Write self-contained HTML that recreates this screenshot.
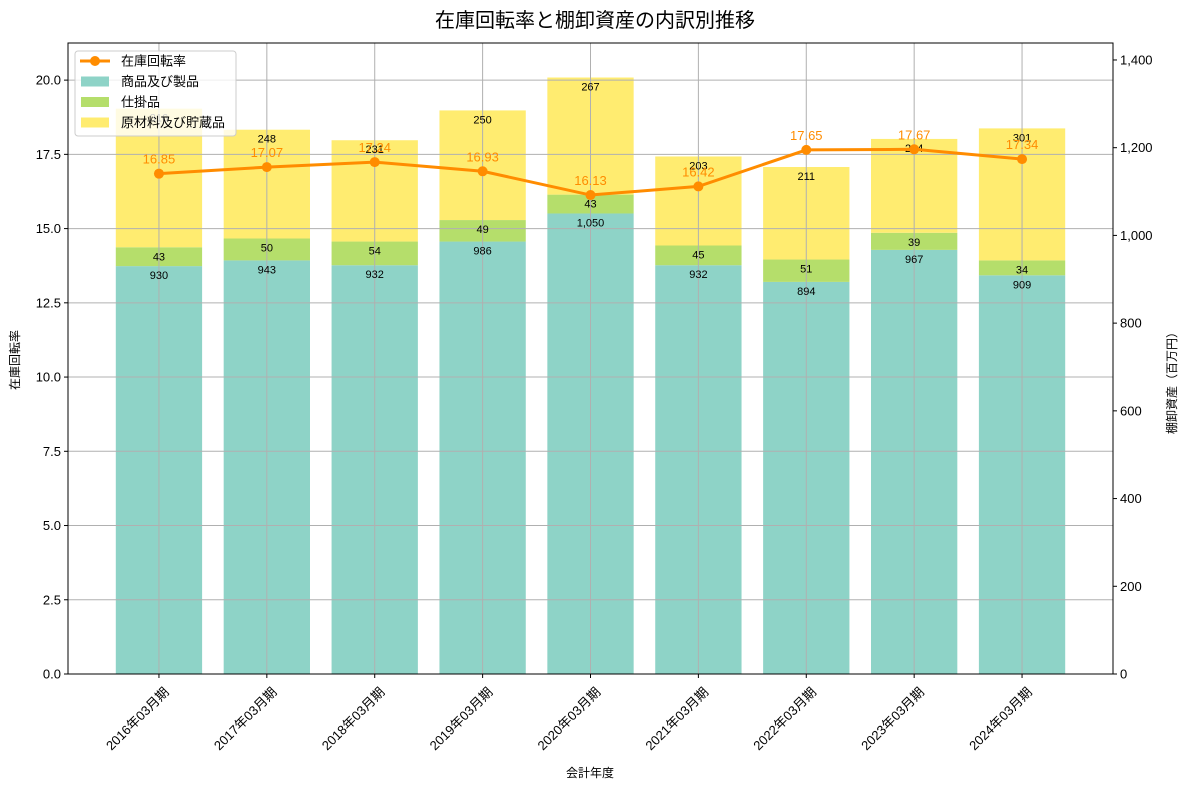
<!DOCTYPE html>
<html><head><meta charset="utf-8"><style>
html,body{margin:0;padding:0;background:#fff;}
svg{display:block;font-family:"Liberation Sans","Noto Sans CJK JP",sans-serif;}
</style></head><body>
<svg id="chart" width="1190" height="789" viewBox="0 0 1190 789"></svg>
<script>
const categories = ["2016年03月期","2017年03月期","2018年03月期","2019年03月期","2020年03月期","2021年03月期","2022年03月期","2023年03月期","2024年03月期"];
const products = [930,943,932,986,1050,932,894,967,909];
const wip = [43,50,54,49,43,45,51,39,34];
const rawMaterials = [316,248,231,250,267,203,211,214,301];
const turnover = [16.85,17.07,17.24,16.93,16.13,16.42,17.65,17.67,17.34];
const leftTicks = [0,2.5,5,7.5,10,12.5,15,17.5,20];
const rightTicks = [0,200,400,600,800,1000,1200,1400];

const NS="http://www.w3.org/2000/svg";
const svg=document.getElementById('chart');
const L=68,R=1113,T=43,B=674;
const xMin=-0.843,xMax=categories.length-1+0.843;
const yL=v=>B-(B-T)*v/21.25;
const yR=v=>B-(B-T)*v/1438.7;
const xS=i=>L+(R-L)*(i-xMin)/(xMax-xMin);
const bw=(R-L)/(xMax-xMin)*0.8;
function mk(tag,attrs,parent){const e=document.createElementNS(NS,tag);for(const k in attrs)e.setAttribute(k,attrs[k]);(parent||svg).appendChild(e);return e;}
const fmt=v=>v.toLocaleString('en-US');

// title
let t=mk('text',{x:595,y:27,'text-anchor':'middle','font-size':20,fill:'#000'});
t.textContent='在庫回転率と棚卸資産の内訳別推移';



// bars
const colors=['#8ed3c7','#b5de6b','#ffec70'];
categories.forEach((c,i)=>{
  const segs=[products[i],wip[i],rawMaterials[i]];
  const names=['bar-products','bar-wip','bar-raw-materials'];
  let base=0;
  segs.forEach((v,j)=>{
    const r=mk('rect',{x:xS(i)-bw/2,y:yR(base+v),width:bw,height:yR(base)-yR(base+v),fill:colors[j]});
    
    
    base+=v;
  });
});
// grid on top
leftTicks.forEach(v=>{const g=mk('line',{x1:L,x2:R,y1:yL(v),y2:yL(v),stroke:'#b0b0b0','stroke-width':1});});
categories.forEach((c,i)=>{const g=mk('line',{x1:xS(i),x2:xS(i),y1:T,y2:B,stroke:'#b0b0b0','stroke-width':1});});
// bar labels
categories.forEach((c,i)=>{
  const segs=[products[i],wip[i],rawMaterials[i]];
  let base=0;
  segs.forEach(v=>{
    base+=v;
    const l=mk('text',{x:xS(i),y:yR(base)+13,'text-anchor':'middle','font-size':11,fill:'#000'});
    l.textContent=fmt(v);
    
    
  });
});
// line
const pts=turnover.map((v,i)=>xS(i)+','+yL(v)).join(' ');
const pl=mk('polyline',{points:pts,fill:'none',stroke:'#ff8c00','stroke-width':3});


turnover.forEach((v,i)=>{
  const c=mk('circle',{cx:xS(i),cy:yL(v),r:5,fill:'#ff8c00'});
  
  
  const l=mk('text',{x:xS(i),y:yL(v)-10,'text-anchor':'middle','font-size':13,fill:'#ff8c00'});
  l.textContent=v.toFixed(2);
  
  
});
// frame
const fr=mk('rect',{x:L,y:T,width:R-L,height:B-T,fill:'none',stroke:'#000','stroke-width':1});


// left ticks
leftTicks.forEach(v=>{
  mk('line',{x1:L-4,x2:L,y1:yL(v),y2:yL(v),stroke:'#000'});
  const l=mk('text',{x:L-7,y:yL(v)+4.5,'text-anchor':'end','font-size':13,fill:'#000'});
  l.textContent=v.toFixed(1);
  
  
});
rightTicks.forEach(v=>{
  mk('line',{x1:R,x2:R+4,y1:yR(v),y2:yR(v),stroke:'#000'});
  const l=mk('text',{x:R+7,y:yR(v)+4.5,'text-anchor':'start','font-size':13,fill:'#000'});
  l.textContent=fmt(v);
  
  
});
categories.forEach((c,i)=>{
  mk('line',{x1:xS(i),x2:xS(i),y1:B,y2:B+4,stroke:'#000'});
  const x=xS(i)+4,y=B+12;
  const l=mk('text',{x:x,y:y,'text-anchor':'end','font-size':13,fill:'#000',transform:`rotate(-45 ${x} ${y})`,'dominant-baseline':'hanging'});
  l.textContent=c;
  
  
});
// axis titles
t=mk('text',{x:590,y:777,'text-anchor':'middle','font-size':12,fill:'#000'});t.textContent='会計年度';

t=mk('text',{x:19,y:360,'text-anchor':'middle','font-size':12,fill:'#000',transform:'rotate(-90 19 360)'});t.textContent='在庫回転率';

t=mk('text',{x:1176,y:380,'text-anchor':'middle','font-size':12,fill:'#000',transform:'rotate(-90 1176 380)'});t.textContent='棚卸資産（百万円）';

// legend
const lg=mk('g',{});


mk('rect',{x:75,y:51,width:161,height:85,rx:3,fill:'#fff','fill-opacity':0.8,stroke:'#ccc'},lg);
const items=['在庫回転率','商品及び製品','仕掛品','原材料及び貯蔵品'];
items.forEach((n,k)=>{
  const y=61+k*20.5;
  if(k===0){mk('line',{x1:80,x2:110,y1:y,y2:y,stroke:'#ff8c00','stroke-width':3},lg);mk('circle',{cx:95,cy:y,r:5,fill:'#ff8c00'},lg);}
  else mk('rect',{x:81,y:y-5,width:28,height:10,fill:colors[k-1]},lg);
  const l=mk('text',{x:121,y:y+4.5,'font-size':13,fill:'#000'},lg);
  l.textContent=n;
  
  
});
</script>
</body></html>
